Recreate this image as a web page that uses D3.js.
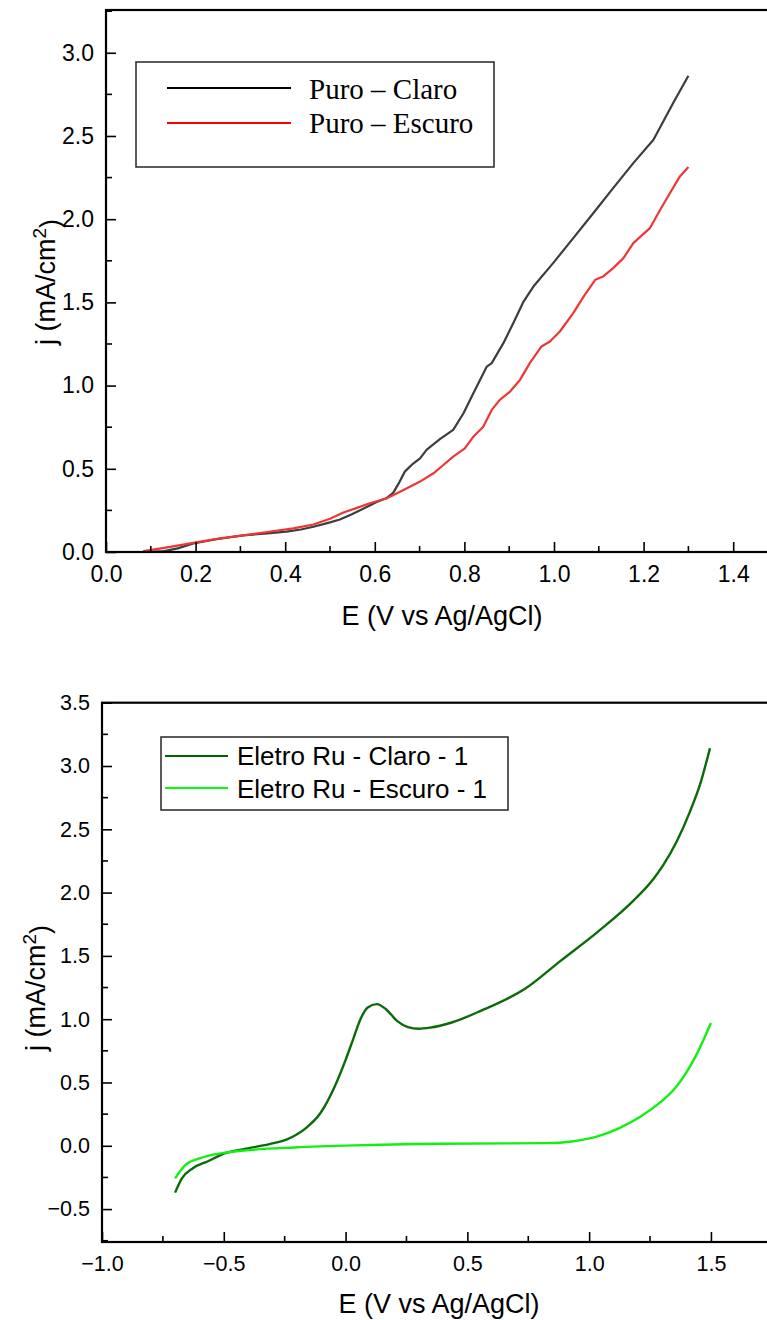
<!DOCTYPE html>
<html>
<head>
<meta charset="utf-8">
<script src="https://cdn.jsdelivr.net/npm/d3@7"></script>
<style>
  html, body { margin: 0; padding: 0; background: #fff; }
  svg { display: block; }
</style>
</head>
<body>
<svg id="fig" width="767" height="1320"></svg>
<script>
// ---- Panel A: pure electrodes (E in V vs Ag/AgCl, j in mA/cm²) ----
const puroClaroE = [0.085, 0.13, 0.16, 0.195, 0.25, 0.306, 0.36, 0.403, 0.435, 0.463, 0.50, 0.522, 0.55, 0.582, 0.604, 0.627, 0.641, 0.655, 0.667, 0.685, 0.701, 0.716, 0.746, 0.775, 0.798, 0.820, 0.850, 0.861, 0.887, 0.909, 0.932, 0.954, 0.998, 1.043, 1.088, 1.132, 1.177, 1.222, 1.266, 1.300];
const puroClaroJ = [0.000, 0.005, 0.022, 0.052, 0.078, 0.100, 0.112, 0.122, 0.135, 0.152, 0.178, 0.195, 0.228, 0.270, 0.300, 0.325, 0.355, 0.420, 0.483, 0.530, 0.563, 0.615, 0.680, 0.734, 0.834, 0.954, 1.114, 1.135, 1.255, 1.375, 1.505, 1.595, 1.736, 1.886, 2.037, 2.187, 2.337, 2.477, 2.698, 2.862];
const puroEscuroE = [0.083, 0.13, 0.195, 0.25, 0.306, 0.36, 0.418, 0.463, 0.50, 0.530, 0.560, 0.589, 0.627, 0.664, 0.701, 0.731, 0.753, 0.775, 0.801, 0.820, 0.842, 0.861, 0.879, 0.902, 0.924, 0.946, 0.972, 0.991, 1.013, 1.043, 1.066, 1.092, 1.110, 1.132, 1.155, 1.177, 1.214, 1.237, 1.259, 1.281, 1.300];
const puroEscuroJ = [0.005, 0.025, 0.055, 0.080, 0.100, 0.120, 0.142, 0.165, 0.200, 0.237, 0.265, 0.293, 0.323, 0.373, 0.423, 0.473, 0.523, 0.573, 0.623, 0.693, 0.753, 0.854, 0.914, 0.964, 1.034, 1.135, 1.235, 1.265, 1.325, 1.435, 1.535, 1.636, 1.656, 1.706, 1.766, 1.856, 1.946, 2.057, 2.157, 2.257, 2.313];
const panelASeries = ["Puro – Claro", "Puro – Escuro"];
const panelAXTicks = [0.0, 0.2, 0.4, 0.6, 0.8, 1.0, 1.2, 1.4];
const panelAYTicks = [0.0, 0.5, 1.0, 1.5, 2.0, 2.5, 3.0];

// ---- Panel B: Ru electrodeposited electrodes ----
const ruClaroE = [-0.700, -0.672, -0.627, -0.567, -0.493, -0.418, -0.313, -0.238, -0.163, -0.103, -0.044, 0.001, 0.031, 0.061, 0.091, 0.128, 0.166, 0.211, 0.256, 0.300, 0.346, 0.436, 0.555, 0.735, 0.884, 1.034, 1.184, 1.263, 1.304, 1.359, 1.414, 1.455, 1.496];
const ruClaroJ = [-0.370, -0.257, -0.177, -0.124, -0.058, -0.026, 0.013, 0.053, 0.140, 0.259, 0.471, 0.683, 0.841, 1.000, 1.093, 1.119, 1.079, 0.987, 0.938, 0.925, 0.933, 0.974, 1.066, 1.238, 1.463, 1.688, 1.940, 2.105, 2.217, 2.402, 2.640, 2.852, 3.140];
const ruEscuroE = [-0.700, -0.657, -0.597, -0.507, -0.388, -0.208, 0.031, 0.390, 0.824, 0.929, 1.034, 1.124, 1.213, 1.289, 1.348, 1.393, 1.438, 1.500];
const ruEscuroJ = [-0.257, -0.151, -0.098, -0.058, -0.032, -0.013, 0.003, 0.016, 0.021, 0.034, 0.074, 0.140, 0.233, 0.339, 0.444, 0.560, 0.710, 0.970];
const panelBSeries = ["Eletro Ru - Claro - 1", "Eletro Ru - Escuro - 1"];
const panelBXTicks = [-1.0, -0.5, 0.0, 0.5, 1.0, 1.5];
const panelBYTicks = [-0.5, 0.0, 0.5, 1.0, 1.5, 2.0, 2.5, 3.0, 3.5];

const svg = d3.select("#fig");
const sans = "'Liberation Sans', Arial, sans-serif";
const serif = "'Liberation Serif', 'Times New Roman', serif";

function zip(xs, ys) { return xs.map((x, i) => [x, ys[i]]); }

function drawPanel(o) {
  const g = svg.append("g");
  const x = d3.scaleLinear().domain(o.xDomain).range(o.xRange);
  const y = d3.scaleLinear().domain(o.yDomain).range(o.yRange);
  const [x0, x1] = o.xRange, [y0, y1] = o.yRange;

  // clip for the data curves
  const clipId = o.id + "-clip";
  g.append("clipPath").attr("id", clipId).append("rect")
    .attr("x", x0).attr("y", y1).attr("width", x1 - x0).attr("height", y0 - y1);

  // curves
  const line = d3.line().x(d => x(d[0])).y(d => y(d[1])).curve(o.curve);
  o.series.forEach(s => {
    g.append("path").datum(s.points)
      .attr("clip-path", `url(#${clipId})`)
      .attr("fill", "none").attr("stroke", s.color)
      .attr("stroke-width", s.width).attr("stroke-linejoin", "round")
      .attr("d", line);
  });

  // x axis, ticks pointing inward
  const xAxis = d3.axisBottom(x).tickValues(o.xTicks).tickSize(-10)
    .tickPadding(14).tickFormat(d3.format(".1f"));
  const gx = g.append("g").attr("transform", `translate(0,${y0})`).call(xAxis);
  const xMinor = d3.range(o.xDomain[0] + o.xMinorStep / 2, o.xDomain[1], o.xMinorStep)
    .filter(v => !o.xTicks.some(t => Math.abs(t - v) < 1e-6));
  g.append("g").selectAll("line").data(xMinor).join("line")
    .attr("x1", d => x(d)).attr("x2", d => x(d))
    .attr("y1", y0).attr("y2", y0 - 6)
    .attr("stroke", "#000").attr("stroke-width", 1.6);

  // y axis, ticks pointing inward
  const yAxis = d3.axisLeft(y).tickValues(o.yTicks).tickSize(-10)
    .tickPadding(12).tickFormat(d3.format(".1f"));
  const gy = g.append("g").attr("transform", `translate(${x0},0)`).call(yAxis);
  const yMinor = o.yMinor.filter(v => v > o.yDomain[0] && v < o.yDomain[1]);
  g.append("g").selectAll("line").data(yMinor).join("line")
    .attr("x1", x0).attr("x2", x0 + 6)
    .attr("y1", d => y(d)).attr("y2", d => y(d))
    .attr("stroke", "#000").attr("stroke-width", 1.6);

  [gx, gy].forEach(a => {
    a.select(".domain").remove();
    a.selectAll(".tick line").attr("stroke", "#000").attr("stroke-width", 1.6);
    a.selectAll(".tick text").attr("fill", "#000")
      .style("font-family", sans).style("font-size", o.tickFont + "px");
  });
  gx.selectAll(".tick text").attr("dy", "0.71em");

  // frame
  g.append("rect").attr("x", x0).attr("y", y1)
    .attr("width", x1 - x0).attr("height", y0 - y1)
    .attr("fill", "none").attr("stroke", "#000").attr("stroke-width", 2.2);

  // axis titles
  g.append("text").attr("x", o.xTitlePos[0]).attr("y", o.xTitlePos[1])
    .attr("text-anchor", "middle").style("font-family", sans)
    .style("font-size", "27px").attr("fill", "#000")
    .text("E (V vs Ag/AgCl)");
  const yt = g.append("text")
    .attr("transform", `translate(${o.yTitlePos[0]},${o.yTitlePos[1]}) rotate(-90)`)
    .attr("text-anchor", "middle").style("font-family", sans)
    .style("font-size", "27px").attr("fill", "#000");
  yt.append("tspan").text("j (mA/cm");
  yt.append("tspan").attr("dy", "-0.5em").style("font-size", "19px").text("2");
  yt.append("tspan").attr("dy", "0.5em").text(")");

  // legend
  const L = o.legend;
  g.append("rect").attr("x", L.box[0]).attr("y", L.box[1])
    .attr("width", L.box[2]).attr("height", L.box[3])
    .attr("fill", "#fff").attr("stroke", "#333").attr("stroke-width", 1.6);
  o.series.forEach((s, i) => {
    const ly = L.lineY[i];
    g.append("line").attr("x1", L.lineX[0]).attr("x2", L.lineX[1])
      .attr("y1", ly).attr("y2", ly)
      .attr("stroke", s.legendColor).attr("stroke-width", 2.2);
    g.append("text").attr("x", L.textX).attr("y", L.textY[i])
      .style("font-family", L.font).style("font-size", L.fontSize + "px")
      .attr("fill", "#000").text(s.name);
  });
}

drawPanel({
  id: "pa",
  xDomain: [0, 1.5], xRange: [106, 778],
  yDomain: [0, 3.257], yRange: [552, 10],
  xTicks: panelAXTicks, xMinorStep: 0.2,
  yTicks: panelAYTicks,
  yMinor: [0.25, 0.75, 1.25, 1.75, 2.25, 2.75, 3.25],
  tickFont: 23,
  curve: d3.curveLinear,
  xTitlePos: [442, 625],
  yTitlePos: [55, 282],
  series: [
    { name: panelASeries[0], points: zip(puroClaroE, puroClaroJ), color: "#3d3d3d", legendColor: "#000", width: 2.2 },
    { name: panelASeries[1], points: zip(puroEscuroE, puroEscuroJ), color: "#ee3636", legendColor: "#ff0000", width: 2.2 }
  ],
  legend: {
    box: [136, 62, 358, 105],
    lineX: [167, 291], lineY: [88, 123],
    textX: 309, textY: [99, 133],
    font: serif, fontSize: 29
  }
});

drawPanel({
  id: "pb",
  xDomain: [-1, 1.8], xRange: [102, 784],
  yDomain: [-0.76, 3.5], yRange: [1242, 702.7],
  xTicks: panelBXTicks, xMinorStep: 0.5,
  yTicks: panelBYTicks,
  yMinor: [-0.75, -0.25, 0.25, 0.75, 1.25, 1.75, 2.25, 2.75, 3.25],
  tickFont: 21.5,
  curve: d3.curveMonotoneX,
  xTitlePos: [439, 1313],
  yTitlePos: [45, 988],
  series: [
    { name: panelBSeries[0], points: zip(ruClaroE, ruClaroJ), color: "#0b6b0b", legendColor: "#006400", width: 2.4 },
    { name: panelBSeries[1], points: zip(ruEscuroE, ruEscuroJ), color: "#11f011", legendColor: "#00ff00", width: 2.4 }
  ],
  legend: {
    box: [161, 737, 347, 73],
    lineX: [165, 228], lineY: [756, 788],
    textX: 237, textY: [765, 798],
    font: sans, fontSize: 26
  }
});
</script>
</body>
</html>
